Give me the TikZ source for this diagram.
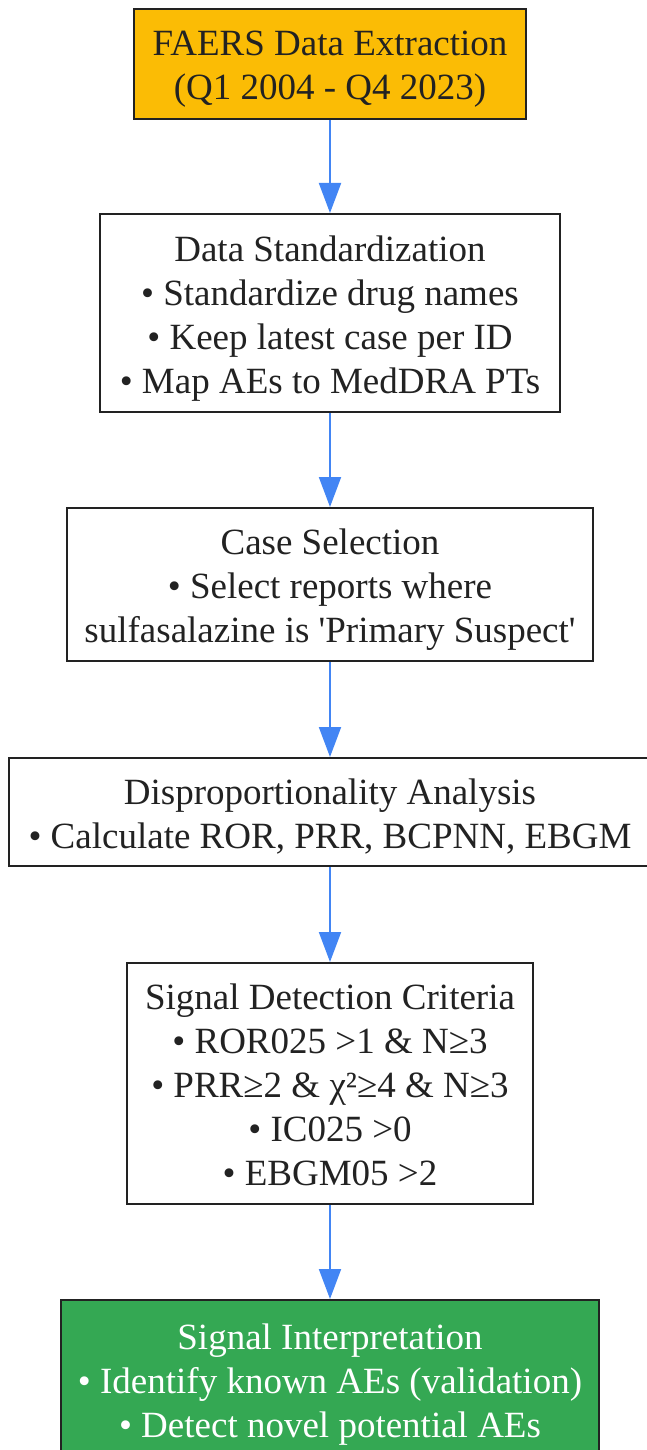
\documentclass[tikz,border=0pt]{standalone}
\usepackage{fontspec}
\setmainfont{Liberation Serif}
\usetikzlibrary{arrows.meta}
\definecolor{gyellow}{HTML}{FBBC05}
\definecolor{ggreen}{HTML}{34A853}
\definecolor{gblue}{HTML}{4285F4}
\definecolor{ink}{HTML}{222222}
\newcommand\topstrut{\rule{0pt}{38pt}}
\newcommand\botstrut{\rule[-10pt]{0pt}{10pt}}
\begin{document}
\begin{tikzpicture}[x=1pt,y=1pt,
  box/.style={draw=ink, line width=2pt, fill=white, text=ink, align=center, inner sep=0pt,
    font=\fontsize{37}{44}\selectfont},
  arr/.style={draw=gblue, line width=2pt, -{Triangle[length=30pt,width=22pt]}}]
\useasboundingbox (0,0) rectangle (646,-1450);
\node[box, fill=gyellow, minimum width=392pt, minimum height=110pt] (b1) at (330,-64)
  {\topstrut FAERS Data Extraction\\(Q1 2004 - Q4 2023)\botstrut};
\node[box, minimum width=460pt, minimum height=198pt] (b2) at (330,-313)
  {\topstrut Data Standardization\\• Standardize drug names\\• Keep latest case per ID\\• Map AEs to MedDRA PTs\botstrut};
\node[box, minimum width=526pt, minimum height=153pt] (b3) at (330,-584.5)
  {\topstrut Case Selection\\• Select reports where\\sulfasalazine is \textquotesingle Primary Suspect\textquotesingle\botstrut};
\node[box, minimum width=642pt, minimum height=108pt] (b4) at (330,-812)
  {\topstrut Disproportionality Analysis\\• Calculate ROR, PRR, BCPNN, EBGM\botstrut};
\node[box, minimum width=406pt, minimum height=241pt] (b5) at (330,-1083.5)
  {\topstrut Signal Detection Criteria\\• ROR025 >1 \& N≥3\\• PRR≥2 \& χ²≥4 \& N≥3\\• IC025 >0\\• EBGM05 >2\botstrut};
\node[box, fill=ggreen, text=white, minimum width=538pt, minimum height=158pt] (b6) at (330,-1379)
  {\topstrut Signal Interpretation\\• Identify known AEs (validation)\\• Detect novel potential AEs\botstrut};
\draw[arr] (b1.south) -- (b2.north);
\draw[arr] (b2.south) -- (b3.north);
\draw[arr] (b3.south) -- (b4.north);
\draw[arr] (b4.south) -- (b5.north);
\draw[arr] (b5.south) -- (b6.north);
\end{tikzpicture}
\end{document}
